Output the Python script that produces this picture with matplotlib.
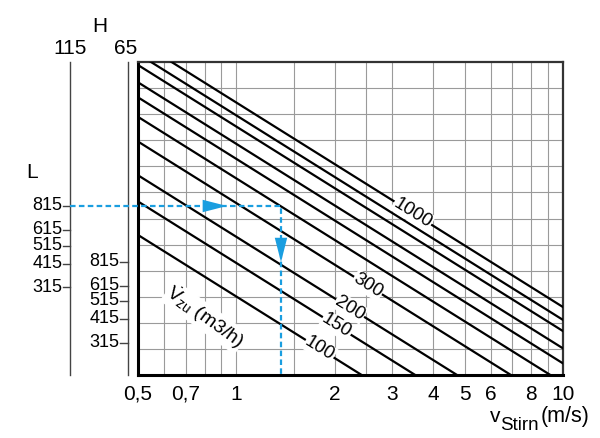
import numpy as np
import matplotlib
matplotlib.use('Agg')
import matplotlib.pyplot as plt
from matplotlib.transforms import blended_transform_factory

plt.rcParams['font.family'] = ['Liberation Sans', 'DejaVu Sans']
plt.rcParams['mathtext.fontset'] = 'custom'
plt.rcParams['mathtext.rm'] = 'Liberation Sans'
plt.rcParams['mathtext.it'] = 'Liberation Sans:italic'

# Vzu lines (m3/h) and the face velocity where each line meets the bottom edge
vzu = [100, 150, 200, 300, 400, 500, 600, 700, 800, 1000]
v_at_bottom = [2.42, 3.53, 4.74, 6.93, 9.15, 11.4, 13.5, 16.4, 18.6, 21.5]
slope = 7.84  # grid units per decade
labelled = {100: 1.80, 150: 2.03, 200: 2.23, 300: 2.53, 1000: 3.47}

xticks = [0.5, 0.7, 1, 2, 3, 4, 5, 6, 8, 10]
xtick_labels = ['0,5', '0,7', '1', '2', '3', '4', '5', '6', '8', '10']
vgrid = [0.6, 0.7, 0.8, 0.9, 1, 1.5, 2, 2.5, 3, 4, 5, 6, 7, 8, 9]

# L scales for H = 115 and H = 65 (positions in grid units)
L_vals = [815, 615, 515, 415, 315]
L_pos_115 = [6.48, 5.56, 4.96, 4.26, 3.37]
L_pos_65 = [4.34, 3.42, 2.85, 2.15, 1.24]

# example reading
ex_v = 1.37
ex_y = 6.48

fig = plt.figure(figsize=(6, 4.38), dpi=100)
ax = fig.add_axes([0.23, 0.1438, 0.7083, 0.7146])
ax.set_xscale('log')
ax.set_xlim(0.5, 10)
ax.set_ylim(0, 12)

for g in vgrid:
    ax.axvline(g, color='#9a9a9a', lw=0.8, zorder=1)
for g in range(1, 12):
    ax.axhline(g, color='#9a9a9a', lw=0.8, zorder=1)

xs = np.array([0.5, 10])
for q, x0 in zip(vzu, v_at_bottom):
    ax.plot(xs, slope * (np.log10(x0) - np.log10(xs)), color='black', lw=1.6, zorder=3)
    if q in labelled:
        xl = labelled[q]
        yl = slope * (np.log10(x0) - np.log10(xl))
        ax.text(xl, yl, str(q), fontsize=13.5, rotation=-32, rotation_mode='anchor',
                ha='center', va='center', zorder=4,
                bbox=dict(fc='white', ec='none', pad=0.5))

ax.text(0.80, 2.22, r'$\dot{\mathrm{V}}_{\mathrm{zu}}$ (m3/h)', fontsize=14, rotation=-36,
        rotation_mode='anchor', ha='center', va='center', zorder=4,
        bbox=dict(fc='white', ec='none', pad=0.5))

ax.set_xticks(xticks)
ax.set_xticklabels(xtick_labels)
ax.xaxis.set_minor_locator(matplotlib.ticker.NullLocator())
ax.tick_params(axis='x', length=0, labelsize=15, pad=7)
ax.set_yticks([])
for side in ['left', 'bottom']:
    ax.spines[side].set_linewidth(2.2)
for side in ['top', 'right']:
    ax.spines[side].set_linewidth(1.6)
    ax.spines[side].set_color('#333333')

# left scales
tr = blended_transform_factory(ax.transAxes, ax.transData)
tick = 0.017
for xf, pos in [(-0.159, L_pos_115), (-0.0242, L_pos_65)]:
    ax.plot([xf, xf], [0, 12], color='#444444', lw=1.0, transform=tr, clip_on=False)
    for val, p in zip(L_vals, pos):
        ax.plot([xf - tick, xf], [p, p], color='#444444', lw=1.0, transform=tr, clip_on=False)
        ax.text(xf - tick - 0.002, p, str(val), fontsize=13, ha='right', va='center',
                transform=tr)

fig.text(70.5 / 600, 1 - 48 / 438, '115', fontsize=15, ha='center', va='center')
fig.text(126 / 600, 1 - 48 / 438, '65', fontsize=15, ha='center', va='center')
fig.text(100 / 600, 1 - 27 / 438, 'H', fontsize=15, ha='center', va='center')
fig.text(32 / 600, 1 - 172 / 438, 'L', fontsize=15, ha='center', va='center')

# x axis label
fig.text(490 / 600, 1 - 422 / 438, 'v', fontsize=15, ha='left', va='baseline')
fig.text(500 / 600, 1 - 430 / 438, 'Stirn', fontsize=13.5, ha='left', va='baseline')
fig.text(541 / 600, 1 - 422 / 438, '(m/s)', fontsize=15.5, ha='left', va='baseline')

# dashed example path
blue = '#1a9ee0'
x_start = 10 ** (np.log10(0.5) - 0.159 * np.log10(20))
ax.plot([x_start, ex_v, ex_v], [ex_y, ex_y, 0], color=blue, lw=1.6,
        ls=(0, (2.5, 1.5)), clip_on=False, zorder=5)
ax.annotate('', xy=(0.936, ex_y), xytext=(0.791, ex_y),
            arrowprops=dict(arrowstyle='-|>,head_length=1.25,head_width=0.32',
                            mutation_scale=14, color=blue, lw=0, shrinkA=0, shrinkB=0),
            zorder=6)
ax.annotate('', xy=(ex_v, 4.33), xytext=(ex_v, 5.29),
            arrowprops=dict(arrowstyle='-|>,head_length=1.25,head_width=0.32',
                            mutation_scale=14, color=blue, lw=0, shrinkA=0, shrinkB=0),
            zorder=6)

fig.savefig('out.png', dpi=100)
